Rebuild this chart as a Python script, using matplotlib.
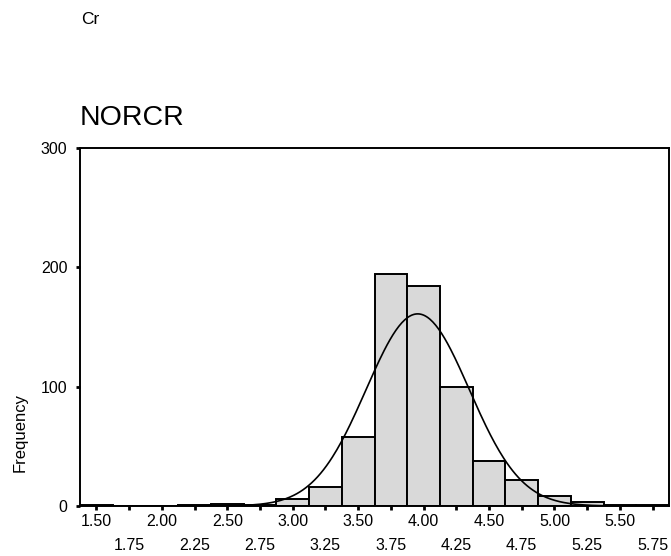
import matplotlib
matplotlib.use("Agg")
import matplotlib.pyplot as plt
import numpy as np

plt.rcParams['font.family'] = ['Liberation Sans', 'DejaVu Sans']

# bin centres (width 0.25) and frequencies
centres = [1.50, 1.75, 2.00, 2.25, 2.50, 2.75, 3.00, 3.25, 3.50,
           3.75, 4.00, 4.25, 4.50, 4.75, 5.00, 5.25, 5.50, 5.75]
counts = [1, 0, 0, 1, 2, 1, 6, 16, 58, 194, 184, 100, 38, 22, 8, 3, 1, 1]
bin_width = 0.25

# normal curve parameters (estimated from the drawn curve)
mean = 3.955
sd = 0.394

upper_ticks = [1.50, 2.00, 2.50, 3.00, 3.50, 4.00, 4.50, 5.00, 5.50]
lower_ticks = [1.75, 2.25, 2.75, 3.25, 3.75, 4.25, 4.75, 5.25, 5.75]
y_ticks = [0, 100, 200, 300]

fig = plt.figure(figsize=(6.71, 5.56), dpi=100)
ax = fig.add_axes([80 / 671, 1 - 506 / 556, 589 / 671, 358 / 556])

ax.bar(centres, counts, width=bin_width, color='#d9d9d9',
       edgecolor='black', linewidth=1.4, align='center', zorder=2)

n = sum(counts)
xs = np.linspace(1.375, 5.875, 400)
ys = n * bin_width * np.exp(-0.5 * ((xs - mean) / sd) ** 2) / (sd * np.sqrt(2 * np.pi))
ax.plot(xs, ys, color='black', linewidth=1.2, zorder=3)

ax.set_xlim(1.375, 5.875)
ax.set_ylim(0, 300)

for s in ax.spines.values():
    s.set_linewidth(1.4)

ax.set_yticks(y_ticks)
ax.set_yticklabels([str(v) for v in y_ticks], fontsize=11.5)
ax.tick_params(axis='y', length=3, width=2, pad=6)

ax.set_xticks(upper_ticks + lower_ticks)
ax.set_xticklabels([f"{v:.2f}" for v in upper_ticks] +
                   ["\n" + f"{v:.2f}" for v in lower_ticks], fontsize=11.5,
                   linespacing=1.75)
ax.tick_params(axis='x', length=3, width=2, pad=3)

fig.text(80 / 671, 1 - 118 / 556, "NORCR", fontsize=20.5, va='center', ha='left')
fig.text(81 / 671, 1 - 19 / 556, "Cr", fontsize=12.5, va='center', ha='left')
fig.text(20 / 671, 1 - 432 / 556, "Frequency", fontsize=12, rotation=90,
         va='center', ha='center')

fig.savefig("out.png", dpi=100)
